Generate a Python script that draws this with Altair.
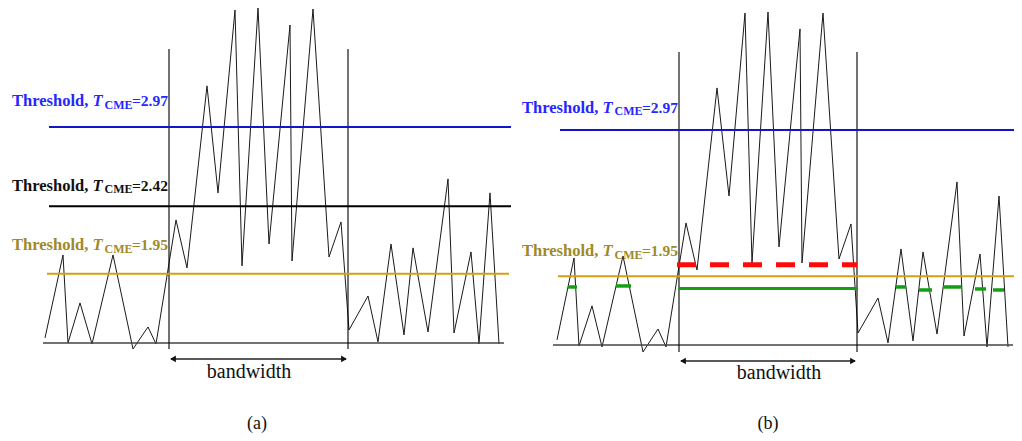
import altair as alt
import pandas as pd

# ---------------- data (x: horizontal position, y: level in T_CME units) ----------------
trace_a_x = [45, 63, 68, 80, 92, 113, 133, 148, 156, 176, 187, 207, 218, 235, 242, 258, 269,
             290, 292, 313, 329, 341, 349, 368, 378, 391, 404, 413, 428, 448, 454, 471, 479, 490, 499]
trace_a_y = [1.505, 2.081, 1.470, 1.748, 1.463, 2.081, 1.428, 1.581, 1.463, 2.324, 1.991, 3.255,
             2.512, 3.782, 2.005, 3.796, 2.157, 3.678, 2.039, 3.789, 2.067, 2.310, 1.560, 1.796,
             1.477, 2.157, 1.526, 2.130, 1.546, 2.609, 1.539, 2.102, 1.463, 2.512, 1.463]

trace_b_x = [557, 574, 579, 592, 602, 623, 643, 658, 666, 686, 697, 717, 729, 745, 752, 768, 779,
             800, 802, 823, 839, 851, 858, 878, 888, 901, 913, 923, 937, 957, 964, 980, 987, 999, 1008]
trace_b_y = [1.507, 2.078, 1.465, 1.744, 1.458, 2.092, 1.423, 1.583, 1.458, 2.322, 1.994, 3.263,
             2.510, 3.785, 2.043, 3.792, 2.155, 3.674, 2.043, 3.785, 2.071, 2.315, 1.555, 1.799,
             1.486, 2.141, 1.500, 2.120, 1.548, 2.608, 1.534, 2.106, 1.458, 2.510, 1.458]

# baseline (x_start, x_end, level)
baseline_a = (43, 504, 1.470)
baseline_b = (553, 1013, 1.472)

# bandwidth boundaries (x, y_bottom, y_top)
bounds_a_x = [169, 348]
bounds_b_x = [679, 857]
bounds_a_y = (1.428, 3.512)
bounds_b_y = (1.423, 3.514)

# thresholds
thr_a_values = [2.97, 2.42, 1.95]
thr_a_x1 = [49, 49, 47]
thr_a_x2 = [511, 511, 509]
thr_b_values = [2.97, 1.95]
thr_b_x1 = [560, 558]
thr_b_x2 = [1014, 1014]
line_colors = {"2.97": "#1414c8", "2.42": "#000000", "1.95": "#d4a010"}
text_colors = {"2.97": "#2626ff", "2.42": "#111111", "1.95": "#9e8a26"}

# label anchor (x of "Threshold,", baseline level)
labels_a_x = [12, 12, 12]
labels_a_y = [3.112, 2.526, 2.114]
labels_a_txt = ["2.97", "2.42", "1.95"]
labels_b_x = [522, 522]
labels_b_y = [3.091, 2.092]
labels_b_txt = ["2.97", "1.95"]

# panel (b) detection segments
red_seg = (677, 857, 2.03)
green_main = (678, 858, 1.865)
green_x1 = [568, 616, 896, 919, 943, 975, 993]
green_x2 = [577, 631, 906, 932, 961, 986, 1004]
green_y = [1.876, 1.883, 1.876, 1.855, 1.876, 1.862, 1.855]

# bandwidth arrows (x1, x2, level) and captions
arrow_a = (171, 346, 1.359)
arrow_b = (681, 855, 1.360)
bw_a = (249, 1.227)
bw_b = (779, 1.235)
cap_a = (257, 0.870, "(a)")
cap_b = (768, 0.884, "(b)")

# panel frames: x domain, y domain, width
H = 425
frame_a = ([8, 512], [3.796 - H / 144, 3.796], 504)
frame_b = ([512, 1014], [3.820 - H / 143.5, 3.820], 502)

SERIF = "Liberation Serif"


def panel(tx, ty, base, bx, by, thr_v, thr_x1, thr_x2, lab_x, lab_y, lab_t,
          arrow, bw, cap, frame, extra=None):
    xdom, ydom, width = frame
    xs = alt.Scale(domain=xdom, nice=False, zero=False)
    ys = alt.Scale(domain=ydom, nice=False, zero=False)

    def X(f="x"):
        return alt.X(f + ":Q", scale=xs, axis=None)

    def Y(f="y"):
        return alt.Y(f + ":Q", scale=ys, axis=None)

    layers = []
    trace = pd.DataFrame({"x": tx, "y": ty, "i": range(len(tx))})
    layers.append(alt.Chart(trace).mark_line(color="#1a1a1a", strokeWidth=1, clip=True).encode(
        x=X(), y=Y(), order="i:Q"))

    bdf = pd.DataFrame({"x": [base[0]], "x2": [base[1]], "y": [base[2]]})
    layers.append(alt.Chart(bdf).mark_rule(color="#444444", strokeWidth=1.4).encode(
        x=X(), x2="x2:Q", y=Y()))

    vdf = pd.DataFrame({"x": bx, "y": [by[0]] * len(bx), "y2": [by[1]] * len(bx)})
    layers.append(alt.Chart(vdf).mark_rule(color="#000000", strokeWidth=1.1).encode(
        x=X(), y=Y(), y2="y2:Q"))

    tdf = pd.DataFrame({"x": thr_x1, "x2": thr_x2, "y": thr_v,
                        "c": [line_colors[f"{v:.2f}"] for v in thr_v]})
    layers.append(alt.Chart(tdf).mark_rule(strokeWidth=2, clip=True).encode(
        x=X(), x2="x2:Q", y=Y(), color=alt.Color("c:N", scale=None)))

    if extra is not None:
        layers.extend(extra(X, Y))

    # threshold labels split into pieces
    main_rows, ital_rows, sub_rows, val_rows = [], [], [], []
    for x0, y0, t in zip(lab_x, lab_y, lab_t):
        c = text_colors[t]
        main_rows.append({"x": x0, "y": y0, "t": "Threshold,", "c": c})
        ital_rows.append({"x": x0 + 80.5, "y": y0, "t": "T", "c": c})
        sub_rows.append({"x": x0 + 92.5, "y": y0 - 0.018, "t": "CME", "c": c})
        val_rows.append({"x": x0 + 120, "y": y0, "t": "=" + t, "c": c})
    for rows, size, style in [(main_rows, 16.5, "normal"), (ital_rows, 16.5, "italic"),
                              (sub_rows, 12, "normal"), (val_rows, 15.5, "normal")]:
        layers.append(alt.Chart(pd.DataFrame(rows)).mark_text(
            align="left", baseline="alphabetic", font=SERIF, fontSize=size,
            fontWeight="bold", fontStyle=style).encode(
            x=X(), y=Y(), text="t:N", color=alt.Color("c:N", scale=None)))

    adf = pd.DataFrame({"x": [arrow[0]], "x2": [arrow[1]], "y": [arrow[2]]})
    layers.append(alt.Chart(adf).mark_rule(color="#222222", strokeWidth=1.5).encode(
        x=X(), x2="x2:Q", y=Y()))
    hdf = pd.DataFrame({"x": [arrow[0] + 2, arrow[1] - 2], "y": [arrow[2]] * 2,
                        "s": ["triangle-left", "triangle-right"]})
    layers.append(alt.Chart(hdf).mark_point(filled=True, size=45, color="#111111", opacity=1).encode(
        x=X(), y=Y(), shape=alt.Shape("s:N", scale=None)))

    wdf = pd.DataFrame({"x": [bw[0]], "y": [bw[1]], "t": ["bandwidth"]})
    layers.append(alt.Chart(wdf).mark_text(
        align="center", baseline="alphabetic", font=SERIF, fontSize=20, color="#111111").encode(
        x=X(), y=Y(), text="t:N"))
    cdf = pd.DataFrame({"x": [cap[0]], "y": [cap[1]], "t": [cap[2]]})
    layers.append(alt.Chart(cdf).mark_text(
        align="center", baseline="alphabetic", font=SERIF, fontSize=18, color="#111111").encode(
        x=X(), y=Y(), text="t:N"))

    return alt.layer(*layers).properties(width=width, height=H)


def extra_b(X, Y):
    out = []
    rdf = pd.DataFrame({"x": [red_seg[0]], "x2": [red_seg[1]], "y": [red_seg[2]]})
    out.append(alt.Chart(rdf).mark_rule(color="#ff0a0a", strokeWidth=5, strokeDash=[19, 14]).encode(
        x=X(), x2="x2:Q", y=Y()))
    gdf = pd.DataFrame({"x": [green_main[0]], "x2": [green_main[1]], "y": [green_main[2]]})
    out.append(alt.Chart(gdf).mark_rule(color="#12a012", strokeWidth=3).encode(
        x=X(), x2="x2:Q", y=Y()))
    sdf = pd.DataFrame({"x": green_x1, "x2": green_x2, "y": green_y})
    out.append(alt.Chart(sdf).mark_rule(color="#12a012", strokeWidth=3.5).encode(
        x=X(), x2="x2:Q", y=Y()))
    return out


pa = panel(trace_a_x, trace_a_y, baseline_a, bounds_a_x, bounds_a_y,
           thr_a_values, thr_a_x1, thr_a_x2, labels_a_x, labels_a_y, labels_a_txt,
           arrow_a, bw_a, cap_a, frame_a)
pb = panel(trace_b_x, trace_b_y, baseline_b, bounds_b_x, bounds_b_y,
           thr_b_values, thr_b_x1, thr_b_x2, labels_b_x, labels_b_y, labels_b_txt,
           arrow_b, bw_b, cap_b, frame_b, extra=extra_b)

chart = alt.hconcat(pa, pb, spacing=0).properties(padding=0, background="white").configure_view(
    stroke=None)

chart.save("out.html", embed_options={"renderer": "svg", "actions": False})
